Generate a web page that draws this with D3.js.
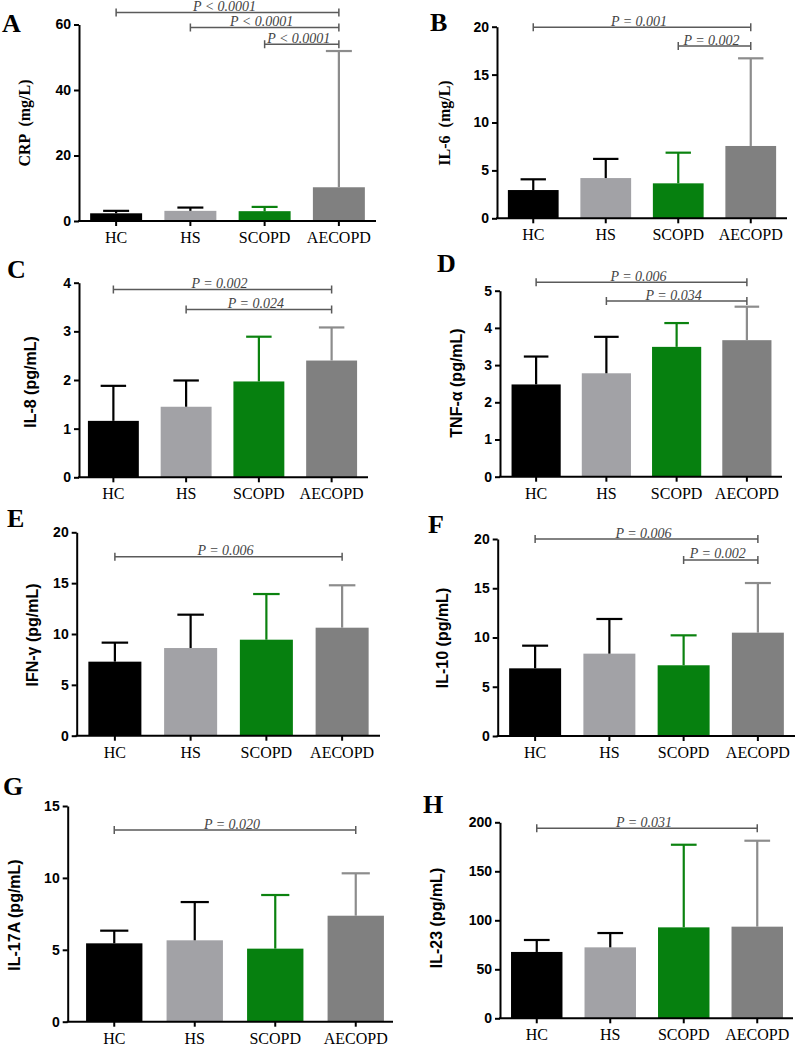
<!DOCTYPE html>
<html>
<head>
<meta charset="utf-8">
<script src="https://cdn.jsdelivr.net/npm/d3@7"></script>
<style>
  body { margin: 0; background: #fff; }
  svg text { white-space: pre; }
</style>
</head>
<body>
<div id="chart"></div>
<script>
// groups on every panel
var groups = ['HC', 'HS', 'SCOPD', 'AECOPD'];

// bar height (mean) and top of the error bar
var crpMean = [2.35, 3.1, 3.0, 10.3];
var crpUpper = [3.1, 4.1, 4.3, 51.9];
var il6Mean = [2.95, 4.2, 3.65, 7.55];
var il6Upper = [4.07, 6.2, 6.85, 16.7];
var il8Mean = [1.16, 1.45, 1.97, 2.40];
var il8Upper = [1.88, 1.99, 2.89, 3.08];
var tnfMean = [2.48, 2.78, 3.49, 3.67];
var tnfUpper = [3.23, 3.76, 4.13, 4.57];
var ifnMean = [7.28, 8.62, 9.44, 10.62];
var ifnUpper = [9.15, 11.9, 13.93, 14.79];
var il10Mean = [6.87, 8.36, 7.18, 10.49];
var il10Upper = [9.17, 11.88, 10.22, 15.53];
var il17Mean = [5.45, 5.66, 5.08, 7.37];
var il17Upper = [6.33, 8.32, 8.81, 10.32];
var il23Mean = [67.7, 72.4, 92.8, 93.5];
var il23Upper = [79.9, 87.0, 177.1, 181.2];

// y tick values
var crpTicks = [0, 20, 40, 60];
var il6Ticks = [0, 5, 10, 15, 20];
var il8Ticks = [0, 1, 2, 3, 4];
var tnfTicks = [0, 1, 2, 3, 4, 5];
var ifnTicks = [0, 5, 10, 15, 20];
var il10Ticks = [0, 5, 10, 15, 20];
var il17Ticks = [0, 5, 10, 15];
var il23Ticks = [0, 50, 100, 150, 200];

// significance brackets: [from, to, level in data units, text]
var crpPairs = [['HC', 'AECOPD', 63.7, 'P < 0.0001'],
                ['HS', 'AECOPD', 59.1, 'P < 0.0001'],
                ['SCOPD', 'AECOPD', 54.0, 'P < 0.0001']];
var il6Pairs = [['HC', 'AECOPD', 19.94, 'P = 0.001'],
                ['SCOPD', 'AECOPD', 17.98, 'P = 0.002']];
var il8Pairs = [['HC', 'AECOPD', 3.86, 'P = 0.002'],
                ['HS', 'AECOPD', 3.45, 'P = 0.024']];
var tnfPairs = [['HC', 'AECOPD', 5.23, 'P = 0.006'],
                ['HS', 'AECOPD', 4.72, 'P = 0.034']];
var ifnPairs = [['HC', 'AECOPD', 17.6, 'P = 0.006']];
var il10Pairs = [['HC', 'AECOPD', 20.0, 'P = 0.006'],
                 ['SCOPD', 'AECOPD', 17.87, 'P = 0.002']];
var il17Pairs = [['HC', 'AECOPD', 13.33, 'P = 0.020']];
var il23Pairs = [['HC', 'AECOPD', 193.9, 'P = 0.031']];

var barColors = ['#000000', '#a2a2a6', '#06800f', '#808080'];
var errColors = ['#000000', '#000000', '#0b820f', '#8c8c8c'];

var serif = '"Liberation Serif", "Times New Roman", serif';
var sans = '"Liberation Sans", Arial, sans-serif';

var svg = d3.select('#chart').append('svg')
    .attr('width', 796)
    .attr('height', 1048);

function barPanel(cfg) {
  var g = svg.append('g');

  var x = d3.scaleBand()
      .domain(groups)
      .range(cfg.band)
      .paddingInner(0.3)
      .paddingOuter(0.15);

  var y = d3.scaleLinear()
      .domain([0, d3.max(cfg.ticks)])
      .range([cfg.bottom, cfg.top]);

  var rows = groups.map(function(d, i) {
    return { name: d, mean: cfg.mean[i], upper: cfg.upper[i], i: i };
  });

  // bars
  g.selectAll('rect.bar').data(rows).enter()
    .append('rect')
      .attr('class', 'bar')
      .attr('x', function(d) { return x(d.name); })
      .attr('y', function(d) { return y(d.mean); })
      .attr('width', x.bandwidth())
      .attr('height', function(d) { return y(0) - y(d.mean); })
      .attr('fill', function(d) { return barColors[d.i]; });

  // upper error bars
  var err = g.selectAll('g.err').data(rows).enter()
    .append('g')
      .attr('class', 'err')
      .attr('stroke', function(d) { return errColors[d.i]; })
      .attr('stroke-width', 2.2);

  err.append('line')
      .attr('x1', function(d) { return x(d.name) + x.bandwidth() / 2; })
      .attr('x2', function(d) { return x(d.name) + x.bandwidth() / 2; })
      .attr('y1', function(d) { return y(d.mean); })
      .attr('y2', function(d) { return y(d.upper); });

  err.append('line')
      .attr('x1', function(d) { return x(d.name) + x.bandwidth() * 0.25; })
      .attr('x2', function(d) { return x(d.name) + x.bandwidth() * 0.75; })
      .attr('y1', function(d) { return y(d.upper); })
      .attr('y2', function(d) { return y(d.upper); });

  // y axis
  var yAxis = g.append('g')
      .attr('transform', 'translate(' + cfg.left + ',0)')
      .call(d3.axisLeft(y)
        .tickValues(cfg.ticks)
        .tickFormat(d3.format('d'))
        .tickSize(5)
        .tickSizeOuter(0)
        .tickPadding(3));
  yAxis.selectAll('path, line').attr('stroke', '#000').attr('stroke-width', 2);
  yAxis.selectAll('text')
      .attr('fill', '#000')
      .style('font-family', sans)
      .style('font-weight', 'bold')
      .style('font-size', '14px');

  // x axis
  g.append('line')
      .attr('x1', cfg.left - 1)
      .attr('x2', cfg.right)
      .attr('y1', cfg.bottom)
      .attr('y2', cfg.bottom)
      .attr('stroke', '#000')
      .attr('stroke-width', 2);

  g.selectAll('line.xtick').data(groups).enter()
    .append('line')
      .attr('class', 'xtick')
      .attr('x1', function(d) { return x(d) + x.bandwidth() / 2; })
      .attr('x2', function(d) { return x(d) + x.bandwidth() / 2; })
      .attr('y1', cfg.bottom)
      .attr('y2', cfg.bottom + 5)
      .attr('stroke', '#000')
      .attr('stroke-width', 2);

  g.selectAll('text.xlab').data(groups).enter()
    .append('text')
      .attr('class', 'xlab')
      .attr('x', function(d) { return x(d) + x.bandwidth() / 2; })
      .attr('y', cfg.bottom + 22)
      .attr('text-anchor', 'middle')
      .style('font-family', serif)
      .style('font-size', '16px')
      .text(function(d) { return d; });

  // significance brackets
  var br = g.selectAll('g.pair').data(cfg.pairs).enter()
    .append('g')
      .attr('class', 'pair');

  function cx(name) { return x(name) + x.bandwidth() / 2; }

  br.append('path')
      .attr('d', function(d) {
        var x1 = cx(d[0]), x2 = cx(d[1]), yy = y(d[2]);
        return 'M' + x1 + ',' + (yy - 4) + 'V' + (yy + 4) +
               'M' + x1 + ',' + yy + 'H' + x2 +
               'M' + x2 + ',' + (yy - 4) + 'V' + (yy + 4);
      })
      .attr('fill', 'none')
      .attr('stroke', '#5a5a5a')
      .attr('stroke-width', 1.5);

  br.append('text')
      .attr('x', function(d) { return (cx(d[0]) + cx(d[1])) / 2 - 3; })
      .attr('y', function(d) { return y(d[2]) - 1.5; })
      .attr('text-anchor', 'middle')
      .attr('fill', '#444')
      .style('font-family', serif)
      .style('font-style', 'italic')
      .style('font-size', '14px')
      .text(function(d) { return d[3]; });

  // y label
  svg.append('text')
      .attr('transform', 'translate(' + cfg.ylab[0] + ',' + cfg.ylab[1] + ') rotate(-90)')
      .attr('text-anchor', 'middle')
      .attr('dy', '0.35em')
      .style('font-family', cfg.labelSerif ? serif : sans)
      .style('font-weight', 'bold')
      .style('font-size', '16px')
      .text(cfg.label);

  // panel letter
  svg.append('text')
      .attr('x', cfg.letterPos[0])
      .attr('y', cfg.letterPos[1])
      .style('font-family', serif)
      .style('font-weight', 'bold')
      .style('font-size', '26px')
      .text(cfg.letter);
}

barPanel({ letter: 'A', label: 'CRP  (mg/L)', labelSerif: true,
  mean: crpMean, upper: crpUpper, ticks: crpTicks, pairs: crpPairs,
  left: 79, top: 24.5, bottom: 221, right: 376, band: [79, 376],
  letterPos: [2, 32], ylab: [24, 123] });

barPanel({ letter: 'B', label: 'IL-6  (mg/L)', labelSerif: true,
  mean: il6Mean, upper: il6Upper, ticks: il6Ticks, pairs: il6Pairs,
  left: 497, top: 26.7, bottom: 218.3, right: 787, band: [497, 787],
  letterPos: [430, 31], ylab: [444, 123] });

barPanel({ letter: 'C', label: 'IL-8 (pg/mL)',
  mean: il8Mean, upper: il8Upper, ticks: il8Ticks, pairs: il8Pairs,
  left: 79, top: 282.7, bottom: 477.3, right: 368, band: [77, 368],
  letterPos: [7, 278], ylab: [30, 382] });

barPanel({ letter: 'D', label: 'TNF-α (pg/mL)',
  mean: tnfMean, upper: tnfUpper, ticks: tnfTicks, pairs: tnfPairs,
  left: 500, top: 290.7, bottom: 476.7, right: 782, band: [501, 782],
  letterPos: [437, 272], ylab: [456, 383] });

barPanel({ letter: 'E', label: 'IFN-γ (pg/mL)',
  mean: ifnMean, upper: ifnUpper, ticks: ifnTicks, pairs: ifnPairs,
  left: 76.7, top: 532.3, bottom: 735.7, right: 380, band: [77, 380],
  letterPos: [7, 527], ylab: [32, 635] });

barPanel({ letter: 'F', label: 'IL-10 (pg/mL)',
  mean: il10Mean, upper: il10Upper, ticks: il10Ticks, pairs: il10Pairs,
  left: 497.7, top: 539, bottom: 736, right: 795, band: [498, 795],
  letterPos: [428, 533], ylab: [442, 638] });

barPanel({ letter: 'G', label: 'IL-17A (pg/mL)',
  mean: il17Mean, upper: il17Upper, ticks: il17Ticks, pairs: il17Pairs,
  left: 67.7, top: 806, bottom: 1021.7, right: 393, band: [74, 396],
  letterPos: [3, 795], ylab: [14, 915] });

barPanel({ letter: 'H', label: 'IL-23 (pg/mL)',
  mean: il23Mean, upper: il23Upper, ticks: il23Ticks, pairs: il23Pairs,
  left: 500, top: 822.3, bottom: 1018.3, right: 793, band: [500, 794],
  letterPos: [423, 813], ylab: [436, 918] });
</script>
</body>
</html>
